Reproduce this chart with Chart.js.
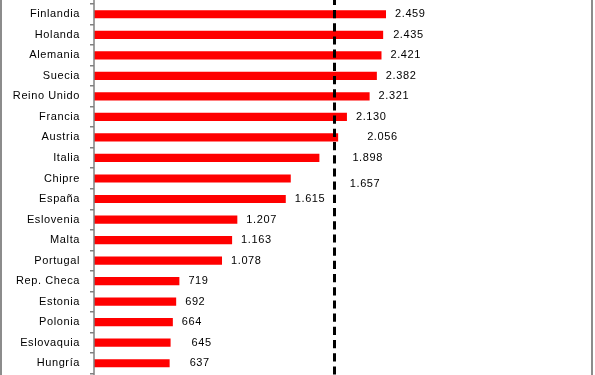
<!DOCTYPE html>
<html><head><meta charset="utf-8">
<script src="https://cdn.jsdelivr.net/npm/chart.js@4/dist/chart.umd.min.js"></script>
<style>
html,body{margin:0;padding:0;background:#fff;overflow:hidden}
#wrap{position:relative;width:595px;height:375px}
#frame{position:absolute;left:0;top:0;width:589px;height:375px;border-left:2px solid #8c8c8c;border-right:2px solid #8c8c8c;pointer-events:none}
canvas{position:absolute;left:0;top:0}
</style></head><body>
<div id="wrap"><canvas id="c" width="595" height="375"></canvas><div id="frame"></div></div>
<script>
// ---- data ----
const categories = ['Finlandia','Holanda','Alemania','Suecia','Reino Unido','Francia','Austria','Italia','Chipre','España','Eslovenia','Malta','Portugal','Rep. Checa','Estonia','Polonia','Eslovaquia','Hungría'];
const values = [2459,2435,2421,2382,2321,2130,2056,1898,1657,1615,1207,1163,1078,719,692,664,645,637];
const referenceValue = 2024; // dashed reference line

// ---- label placement tweaks (as in the original) ----
const nudgeX = {'Holanda':1,'Austria':20,'Italia':24,'Chipre':50,'Eslovaquia':12,'Hungría':11};
const nudgeY = {'Chipre':5};

const FONT = '"Liberation Sans", Arial, sans-serif';
const fmt = v => String(v).replace(/\B(?=(\d{3})+(?!\d))/g, '.');

const overlay = {
  id: 'overlay',
  beforeLayout(chart){ chart.ctx.letterSpacing = '0.6px'; },
  beforeDraw(chart){ chart.ctx.letterSpacing = '0.6px'; },
  afterDatasetsDraw(chart){
    const ctx = chart.ctx, meta = chart.getDatasetMeta(0);
    const xs = chart.scales.x, ys = chart.scales.y;
    ctx.save();
    ctx.letterSpacing = '0.6px';
    ctx.font = '11px ' + FONT;
    ctx.fillStyle = '#000';
    ctx.textAlign = 'left';
    ctx.textBaseline = 'middle';
    meta.data.forEach((bar, i) => {
      const n = categories[i];
      ctx.fillText(fmt(values[i]), bar.x + 9 + (nudgeX[n] || 0), bar.y + (nudgeY[n] || 0));
    });
    // dashed reference line
    const px = Math.round(xs.getPixelForValue(referenceValue)) + 0.5;
    ctx.strokeStyle = '#000';
    ctx.lineWidth = 3;
    ctx.setLineDash([8.2, 5]);
    ctx.lineDashOffset = 3.2;
    ctx.beginPath(); ctx.moveTo(px, 0); ctx.lineTo(px, chart.height); ctx.stroke();
    // full-height category axis line
    ctx.setLineDash([]);
    ctx.strokeStyle = '#808080';
    ctx.lineWidth = 1.5;
    ctx.beginPath(); ctx.moveTo(ys.right, 0); ctx.lineTo(ys.right, chart.height); ctx.stroke();
    ctx.restore();
  }
};

new Chart(document.getElementById('c'), {
  type: 'bar',
  data: {
    labels: categories,
    datasets: [{
      data: values,
      backgroundColor: '#ff0000',
      borderWidth: 0,
      categoryPercentage: 1,
      barPercentage: 0.4
    }]
  },
  options: {
    indexAxis: 'y',
    responsive: false,
    animation: false,
    devicePixelRatio: 1,
    layout: { padding: { top: 4, bottom: 1.5, left: 0, right: 26 } },
    plugins: { legend: { display: false }, tooltip: { enabled: false } },
    scales: {
      x: { display: false, min: 0, max: 4000 },
      y: {
        type: 'category',
        offset: true,
        border: { display: false },
        grid: { display: true, drawOnChartArea: false, drawTicks: true, tickLength: 4, color: '#808080', lineWidth: 1.5, offset: true },
        ticks: { color: '#000', font: { family: FONT, size: 11 }, padding: 10, autoSkip: false },
        afterFit(s){ s.width = 94; s.paddingTop = 0; s.paddingBottom = 0; }
      }
    }
  },
  plugins: [overlay]
});
</script>
</body></html>
